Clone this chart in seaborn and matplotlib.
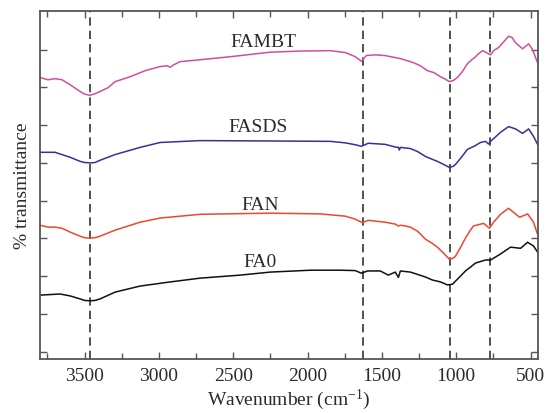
import numpy as np
import pandas as pd
import matplotlib
matplotlib.use("Agg")
import matplotlib.pyplot as plt
import seaborn as sns
from matplotlib.ticker import MultipleLocator, NullFormatter

# ---- data ----
fambt_w = [3800, 3746, 3699, 3652, 3598, 3530, 3500, 3463, 3430, 3396, 3342, 3295, 3194, 3093,
           2992, 2944, 2924, 2904, 2857, 2722, 2520, 2251, 2049, 1847, 1746, 1679, 1638, 1605,
           1545, 1477, 1376, 1308, 1275, 1241, 1194, 1150, 1106, 1080, 1046, 1020, 992, 960,
           924, 895, 870, 850, 823, 783, 769, 749, 716, 682, 648, 625, 601, 554, 513, 487, 453]
fambt_t = [7.26, 7.20, 7.23, 7.20, 7.07, 6.89, 6.82, 6.79, 6.83, 6.89, 6.99, 7.15, 7.28, 7.44,
           7.55, 7.57, 7.53, 7.59, 7.68, 7.73, 7.81, 7.93, 7.96, 7.97, 7.92, 7.81, 7.69, 7.84,
           7.86, 7.84, 7.76, 7.68, 7.63, 7.57, 7.44, 7.39, 7.28, 7.23, 7.15, 7.18, 7.26, 7.41,
           7.63, 7.73, 7.81, 7.89, 7.97, 7.89, 7.86, 7.97, 8.05, 8.20, 8.35, 8.32, 8.18, 8.02,
           8.15, 8.00, 7.65]

fasds_w = [3800, 3699, 3598, 3530, 3500, 3463, 3430, 3396, 3295, 3127, 2992, 2722, 2251, 1847,
           1746, 1679, 1638, 1592, 1477, 1410, 1389, 1383, 1376, 1308, 1260, 1207, 1127, 1085,
           1046, 1020, 1005, 965, 924, 880, 837, 803, 783, 769, 702, 648, 601, 554, 513, 480, 453]
fasds_t = [5.28, 5.28, 5.15, 5.04, 5.01, 5.00, 5.01, 5.07, 5.22, 5.41, 5.54, 5.59, 5.58, 5.57,
           5.53, 5.48, 5.44, 5.52, 5.49, 5.42, 5.41, 5.34, 5.41, 5.38, 5.30, 5.17, 5.04, 4.96,
           4.88, 4.91, 4.96, 5.15, 5.36, 5.44, 5.54, 5.57, 5.50, 5.57, 5.81, 5.96, 5.90, 5.78,
           5.90, 5.70, 5.49]

fan_w = [3800, 3746, 3699, 3652, 3598, 3530, 3500, 3463, 3430, 3396, 3295, 3127, 2992, 2857,
         2722, 2251, 1914, 1746, 1679, 1632, 1592, 1477, 1410, 1389, 1376, 1342, 1308, 1260,
         1207, 1165, 1127, 1085, 1046, 1020, 1005, 970, 938, 910, 884, 816, 776, 749, 702, 648,
         574, 520, 480, 453]
fan_t = [3.35, 3.30, 3.30, 3.27, 3.17, 3.06, 3.02, 3.01, 3.02, 3.06, 3.22, 3.43, 3.54, 3.59,
         3.64, 3.67, 3.65, 3.59, 3.51, 3.42, 3.48, 3.43, 3.38, 3.33, 3.35, 3.33, 3.30, 3.19,
         2.98, 2.88, 2.77, 2.61, 2.45, 2.48, 2.53, 2.77, 3.01, 3.19, 3.33, 3.40, 3.27, 3.43,
         3.64, 3.80, 3.56, 3.65, 3.43, 3.11]

fa0_w = [3800, 3665, 3598, 3530, 3500, 3463, 3430, 3396, 3295, 3127, 2924, 2722, 2453, 2251,
         1981, 1780, 1679, 1638, 1598, 1511, 1457, 1410, 1389, 1376, 1308, 1207, 1160, 1106,
         1059, 1025, 1005, 970, 938, 905, 870, 803, 769, 702, 635, 567, 520, 480, 453]
fa0_t = [1.50, 1.53, 1.48, 1.40, 1.36, 1.35, 1.36, 1.40, 1.58, 1.74, 1.85, 1.95, 2.03, 2.11,
         2.16, 2.16, 2.15, 2.08, 2.14, 2.14, 2.03, 2.11, 1.97, 2.14, 2.11, 1.98, 1.90, 1.85,
         1.77, 1.79, 1.87, 2.01, 2.14, 2.24, 2.35, 2.43, 2.43, 2.59, 2.77, 2.74, 2.90, 2.80,
         2.64]

series_names = ["FAMBT", "FASDS", "FAN", "FA0"]
series_colors = ["#d04e9f", "#3a2e9c", "#f0462d", "#111111"]
label_pos = [(2300, 8.21), (2330, 5.96), (2318, 3.90), (2318, 2.38)]
band_lines = [3465, 1628, 1045, 770]
x_ticks = [3500, 3000, 2500, 2000, 1500, 1000, 500]

frames = []
for name, w, t in zip(series_names,
                      [fambt_w, fasds_w, fan_w, fa0_w],
                      [fambt_t, fasds_t, fan_t, fa0_t]):
    frames.append(pd.DataFrame({"wavenumber": w, "transmittance": t, "sample": name}))
df = pd.concat(frames, ignore_index=True)

# ---- style ----
sns.set_style("ticks")
plt.rcParams["font.family"] = ["Liberation Serif", "DejaVu Serif"]
plt.rcParams["mathtext.fontset"] = "custom"
plt.rcParams["mathtext.rm"] = "Liberation Serif"
plt.rcParams["mathtext.it"] = "Liberation Serif:italic"
text_color = "#2b2b2b"
spine_color = "#555555"

fig = plt.figure(figsize=(5.47, 4.14), dpi=100)
ax = fig.add_axes([40 / 547, 54 / 414, 498 / 547, 348 / 414])

sns.lineplot(data=df, x="wavenumber", y="transmittance", hue="sample",
             hue_order=series_names, palette=series_colors, estimator=None,
             linewidth=1.1, legend=False, ax=ax)

for b in band_lines:
    ax.axvline(b, color="#333333", linewidth=1.2, linestyle=(0, (5, 3)), zorder=1)

for name, (x, y) in zip(series_names, label_pos):
    ax.text(x, y, name, ha="center", va="center", fontsize=14, color=text_color)

ax.set_xlim(3800, 450)
ax.set_ylim(-0.19, 9.02)
ax.set_xticks(x_ticks)
ax.xaxis.set_minor_locator(MultipleLocator(250))
ax.set_yticks(range(0, 9))
ax.yaxis.set_major_formatter(NullFormatter())

ax.tick_params(axis="both", which="both", direction="in", top=True, right=True,
               color=spine_color, width=1.0)
ax.tick_params(axis="both", which="major", length=5)
ax.tick_params(axis="both", which="minor", length=4)
ax.tick_params(axis="x", labelsize=14, labelcolor=text_color, pad=6)

for s in ax.spines.values():
    s.set_color(spine_color)
    s.set_linewidth(1.3)

ax.set_xlabel("Wavenumber (cm$^{-1}$)", fontsize=14, color=text_color, labelpad=2)
ax.set_ylabel("% transmittance", fontsize=14, color=text_color, labelpad=3)

fig.savefig("out.png", dpi=100)
